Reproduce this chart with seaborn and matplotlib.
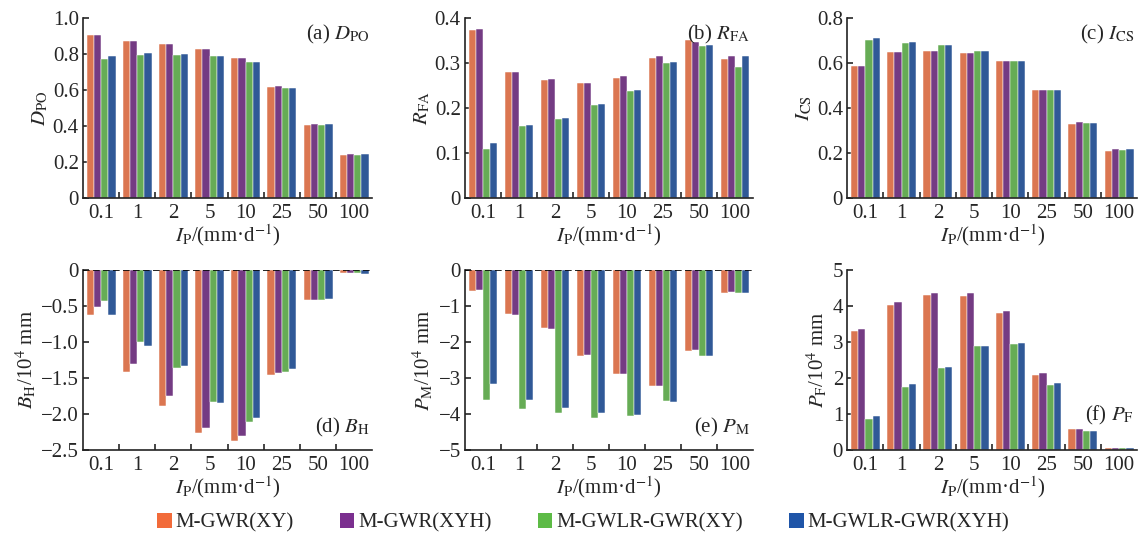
import numpy as np
import pandas as pd
import matplotlib
matplotlib.use("Agg")
import matplotlib.pyplot as plt
import seaborn as sns
from matplotlib.ticker import FixedLocator

categories = ["0.1", "1", "2", "5", "10", "25", "50", "100"]
models = ["M-GWR(XY)", "M-GWR(XYH)", "M-GWLR-GWR(XY)", "M-GWLR-GWR(XYH)"]

# (a) D_PO
dpo_xy = [0.905, 0.870, 0.858, 0.828, 0.780, 0.619, 0.403, 0.238]
dpo_xyh = [0.905, 0.870, 0.858, 0.826, 0.780, 0.623, 0.412, 0.245]
dpo_gl_xy = [0.770, 0.797, 0.795, 0.788, 0.757, 0.610, 0.405, 0.238]
dpo_gl_xyh = [0.790, 0.805, 0.800, 0.788, 0.757, 0.610, 0.410, 0.245]

# (b) R_FA
rfa_xy = [0.373, 0.280, 0.262, 0.255, 0.267, 0.312, 0.350, 0.308]
rfa_xyh = [0.375, 0.280, 0.264, 0.256, 0.270, 0.316, 0.346, 0.316]
rfa_gl_xy = [0.110, 0.160, 0.175, 0.207, 0.238, 0.299, 0.337, 0.290]
rfa_gl_xyh = [0.122, 0.163, 0.178, 0.208, 0.240, 0.303, 0.339, 0.316]

# (c) I_CS
ics_xy = [0.585, 0.650, 0.655, 0.645, 0.607, 0.480, 0.330, 0.210]
ics_xyh = [0.585, 0.650, 0.653, 0.645, 0.607, 0.480, 0.337, 0.217]
ics_gl_xy = [0.700, 0.690, 0.680, 0.652, 0.607, 0.480, 0.333, 0.213]
ics_gl_xyh = [0.710, 0.695, 0.680, 0.652, 0.607, 0.480, 0.335, 0.217]

# (d) B_H
bh_xy = [-0.62, -1.42, -1.89, -2.26, -2.38, -1.46, -0.42, -0.04]
bh_xyh = [-0.52, -1.31, -1.75, -2.20, -2.31, -1.43, -0.42, -0.04]
bh_gl_xy = [-0.43, -1.00, -1.36, -1.84, -2.11, -1.41, -0.42, -0.04]
bh_gl_xyh = [-0.63, -1.05, -1.34, -1.85, -2.05, -1.37, -0.40, -0.05]

# (e) P_M
pm_xy = [-0.58, -1.23, -1.62, -2.38, -2.90, -3.22, -2.25, -0.63]
pm_xyh = [-0.55, -1.25, -1.65, -2.36, -2.90, -3.22, -2.23, -0.62]
pm_gl_xy = [-3.60, -3.85, -3.98, -4.12, -4.05, -3.63, -2.38, -0.65]
pm_gl_xyh = [-3.17, -3.62, -3.82, -3.98, -4.03, -3.67, -2.38, -0.65]

# (f) P_F
pf_xy = [3.30, 4.04, 4.30, 4.28, 3.80, 2.07, 0.58, 0.06]
pf_xyh = [3.37, 4.10, 4.37, 4.36, 3.87, 2.13, 0.58, 0.06]
pf_gl_xy = [0.87, 1.75, 2.27, 2.88, 2.95, 1.80, 0.52, 0.05]
pf_gl_xyh = [0.94, 1.82, 2.31, 2.90, 2.97, 1.87, 0.53, 0.06]

colors = ["#F26B3A", "#7B2F8F", "#5DBB46", "#1F55A8"]

sns.set_theme(style="white")
plt.rcParams["font.family"] = ["Liberation Serif", "DejaVu Serif"]
plt.rcParams["mathtext.fontset"] = "stix"
plt.rcParams["axes.linewidth"] = 1.2

panels = [
    dict(series=[dpo_xy, dpo_xyh, dpo_gl_xy, dpo_gl_xyh], ylim=(0, 1.0), step=0.2,
         ticklabels=["0", "0.2", "0.4", "0.6", "0.8", "1.0"],
         ylabel=r"$D_{\mathrm{PO}}$", tag=r"(a) $D_{\mathrm{PO}}$", tagpos="top",
         rect=[0.0723, 0.6333, 0.252, 0.3334]),
    dict(series=[rfa_xy, rfa_xyh, rfa_gl_xy, rfa_gl_xyh], ylim=(0, 0.4), step=0.1,
         ticklabels=["0", "0.1", "0.2", "0.3", "0.4"],
         ylabel=r"$R_{\mathrm{FA}}$", tag=r"(b) $R_{\mathrm{FA}}$", tagpos="top",
         rect=[0.405, 0.6333, 0.251, 0.3334]),
    dict(series=[ics_xy, ics_xyh, ics_gl_xy, ics_gl_xyh], ylim=(0, 0.8), step=0.2,
         ticklabels=["0", "0.2", "0.4", "0.6", "0.8"],
         ylabel=r"$I_{\mathrm{CS}}$", tag=r"(c) $I_{\mathrm{CS}}$", tagpos="top",
         rect=[0.738, 0.6333, 0.2526, 0.3334]),
    dict(series=[bh_xy, bh_xyh, bh_gl_xy, bh_gl_xyh], ylim=(-2.5, 0), step=0.5,
         ticklabels=["\u22122.5", "\u22122.0", "\u22121.5", "\u22121.0", "\u22120.5", "0"],
         ylabel=r"$B_{\mathrm{H}}$/10$^4$ mm", tag=r"(d) $B_{\mathrm{H}}$", tagpos="bottom",
         rect=[0.0723, 0.1667, 0.252, 0.3333]),
    dict(series=[pm_xy, pm_xyh, pm_gl_xy, pm_gl_xyh], ylim=(-5, 0), step=1,
         ticklabels=["\u22125", "\u22124", "\u22123", "\u22122", "\u22121", "0"],
         ylabel=r"$P_{\mathrm{M}}$/10$^4$ mm", tag=r"(e) $P_{\mathrm{M}}$", tagpos="bottom",
         rect=[0.405, 0.1667, 0.251, 0.3333]),
    dict(series=[pf_xy, pf_xyh, pf_gl_xy, pf_gl_xyh], ylim=(0, 5), step=1,
         ticklabels=["0", "1", "2", "3", "4", "5"],
         ylabel=r"$P_{\mathrm{F}}$/10$^4$ mm", tag=r"(f) $P_{\mathrm{F}}$", tagpos="f",
         rect=[0.738, 0.1667, 0.2526, 0.3333]),
]

fig = plt.figure(figsize=(11.48, 5.40), dpi=100)

for p in panels:
    ax = fig.add_axes(p["rect"])
    rows = []
    for m, vals in zip(models, p["series"]):
        for c, v in zip(categories, vals):
            rows.append({"cat": c, "model": m, "value": v})
    df = pd.DataFrame(rows)
    sns.barplot(data=df, x="cat", y="value", hue="model", order=categories,
                hue_order=models, palette=colors, width=0.8, gap=0,
                edgecolor="white", linewidth=0.35, errorbar=None, ax=ax, legend=False)
    lo, hi = p["ylim"]
    ax.set_ylim(lo, hi)
    ax.set_xlim(-0.5, 7.5)
    ticks = np.arange(lo, hi + p["step"] / 2, p["step"])
    ax.yaxis.set_major_locator(FixedLocator(ticks))
    ax.set_yticklabels(p["ticklabels"])
    ax.xaxis.set_minor_locator(FixedLocator(np.arange(0.5, 7.5, 1.0)))
    ax.tick_params(axis="x", which="major", length=0, labelsize=15, pad=4)
    ax.tick_params(axis="x", which="minor", direction="in", length=4, width=1.2, bottom=True)
    ax.tick_params(axis="y", which="major", direction="in", length=4, width=1.2, left=True,
                   labelsize=15, pad=3)
    for s in ["top", "right"]:
        ax.spines[s].set_visible(False)
    for s in ["left", "bottom"]:
        ax.spines[s].set_color("#222222")
    ax.set_xlabel(r"$I_{\mathrm{P}}$/(mm·d$^{-1}$)", fontsize=15, labelpad=0)
    ax.set_ylabel(p["ylabel"], fontsize=15, labelpad=2)
    if hi == 0:
        ax.axhline(0, color="black", lw=1.2, ls=(0, (4, 2)), zorder=5)
    if p["tagpos"] == "top":
        ax.text(0.99, 0.97, p["tag"], transform=ax.transAxes, ha="right", va="top", fontsize=15)
    elif p["tagpos"] == "bottom":
        ax.text(0.99, 0.06, p["tag"], transform=ax.transAxes, ha="right", va="bottom", fontsize=15)
    else:
        ax.text(0.99, 0.13, p["tag"], transform=ax.transAxes, ha="right", va="bottom", fontsize=15)

handles = [plt.Rectangle((0, 0), 1, 1, facecolor=c, edgecolor="none") for c in colors]
fig.legend(handles, models, loc="center", bbox_to_anchor=(0.508, 0.032), ncol=4,
           frameon=False, fontsize=15, handlelength=0.7, handleheight=0.7,
           handletextpad=0.2, columnspacing=2.2)

fig.savefig("out.png", dpi=100)
